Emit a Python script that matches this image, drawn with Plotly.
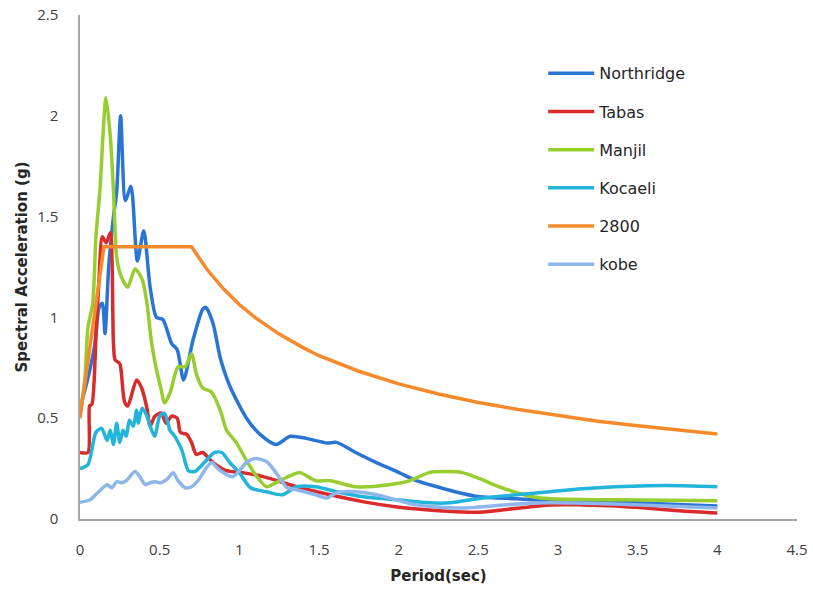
import plotly.graph_objects as go

# ---- data ----
northridge_t = [0, 0.05, 0.09, 0.12, 0.14, 0.157, 0.18, 0.21, 0.23, 0.255, 0.285, 0.32, 0.36, 0.40, 0.44, 0.48,
                0.52, 0.575, 0.61, 0.65, 0.71, 0.77, 0.79, 0.835, 0.88, 0.94, 1.045, 1.13, 1.23, 1.32, 1.42,
                1.55, 1.61, 1.73, 1.86, 1.99, 2.11, 2.24, 2.36, 2.51, 2.74, 2.95, 3.2, 3.5, 3.75, 4.0]
northridge_sa = [0.55, 0.7, 0.85, 1.05, 1.07, 0.92, 1.25, 1.5, 1.62, 2.0, 1.58, 1.65, 1.28, 1.43, 1.15, 1.0,
                 0.99, 0.87, 0.84, 0.69, 0.89, 1.04, 1.05, 0.97, 0.80, 0.66, 0.50, 0.42, 0.37, 0.41, 0.40,
                 0.377, 0.38, 0.33, 0.28, 0.235, 0.19, 0.16, 0.134, 0.11, 0.10, 0.09, 0.085, 0.08, 0.072, 0.065]

tabas_t = [0, 0.05, 0.06, 0.075, 0.1, 0.12, 0.14, 0.165, 0.19, 0.21, 0.22, 0.25, 0.26, 0.28, 0.30, 0.355, 0.387,
           0.42, 0.44, 0.47, 0.51, 0.54, 0.575, 0.61, 0.63, 0.67, 0.70, 0.73, 0.77, 0.835, 0.92, 1.02, 1.15,
           1.36, 1.57, 1.78, 1.99, 2.19, 2.4, 2.53, 2.74, 2.95, 3.15, 3.36, 3.57, 3.78, 4.0]
tabas_sa = [0.33, 0.33, 0.56, 0.57, 0.9, 1.2, 1.40, 1.37, 1.42, 0.87, 0.79, 0.77, 0.72, 0.58, 0.56, 0.69, 0.65,
            0.55, 0.46, 0.51, 0.525, 0.475, 0.51, 0.50, 0.43, 0.42, 0.38, 0.32, 0.33, 0.28, 0.24, 0.23, 0.21,
            0.16, 0.12, 0.085, 0.06, 0.045, 0.035, 0.035, 0.053, 0.07, 0.07, 0.065, 0.053, 0.04, 0.03]

manjil_t = [0, 0.03, 0.05, 0.08, 0.1, 0.125, 0.163, 0.19, 0.21, 0.23, 0.26, 0.30, 0.345, 0.39, 0.42, 0.45, 0.48,
            0.51, 0.53, 0.565, 0.615, 0.66, 0.70, 0.73, 0.77, 0.825, 0.88, 0.92, 0.98, 1.045, 1.11, 1.17,
            1.23, 1.32, 1.38, 1.48, 1.57, 1.73, 1.94, 2.07, 2.19, 2.3, 2.4, 2.51, 2.63, 2.84, 2.95, 3.36, 4.0]
manjil_sa = [0.52, 0.69, 0.95, 1.07, 1.4, 1.63, 2.09, 1.9, 1.63, 1.30, 1.20, 1.15, 1.24, 1.19, 1.07, 0.87, 0.74,
             0.64, 0.575, 0.625, 0.755, 0.755, 0.82, 0.72, 0.65, 0.63, 0.54, 0.44, 0.38, 0.29, 0.21, 0.16,
             0.18, 0.215, 0.23, 0.19, 0.19, 0.16, 0.17, 0.19, 0.23, 0.235, 0.23, 0.20, 0.16, 0.11, 0.10, 0.095, 0.09]

kocaeli_t = [0, 0.05, 0.10, 0.135, 0.17, 0.19, 0.21, 0.23, 0.25, 0.27, 0.29, 0.31, 0.335, 0.355, 0.365, 0.39,
             0.42, 0.45, 0.47, 0.50, 0.53, 0.565, 0.595, 0.64, 0.68, 0.72, 0.78, 0.845, 0.89, 0.94, 1.0, 1.07,
             1.17, 1.27, 1.36, 1.48, 1.61, 1.78, 1.99, 2.19, 2.32, 2.53, 2.74, 2.95, 3.15, 3.36, 3.57, 3.78, 4.0]
kocaeli_sa = [0.25, 0.27, 0.43, 0.45, 0.39, 0.44, 0.37, 0.475, 0.38, 0.44, 0.41, 0.49, 0.46, 0.54, 0.475, 0.55,
              0.51, 0.44, 0.41, 0.51, 0.525, 0.44, 0.41, 0.34, 0.24, 0.235, 0.28, 0.33, 0.33, 0.28, 0.23, 0.155,
              0.135, 0.12, 0.16, 0.16, 0.135, 0.11, 0.095, 0.08, 0.08, 0.104, 0.12, 0.135, 0.15, 0.16, 0.165, 0.165, 0.16]

code2800_t = [0, 0.15, 0.7, 0.75, 0.8, 0.9, 1.0, 1.1, 1.25, 1.4, 1.5, 1.75, 2.0, 2.25, 2.5, 2.75, 3.0, 3.25,
              3.5, 3.75, 4.0]
code2800_sa = [0.5, 1.35, 1.35, 1.29, 1.235, 1.142, 1.064, 0.999, 0.917, 0.85, 0.81, 0.733, 0.67, 0.62, 0.578,
               0.543, 0.512, 0.485, 0.462, 0.441, 0.422]

kobe_t = [0, 0.06, 0.11, 0.17, 0.20, 0.23, 0.26, 0.29, 0.345, 0.375, 0.41, 0.44, 0.47, 0.51, 0.55, 0.585, 0.615,
          0.66, 0.70, 0.74, 0.79, 0.825, 0.865, 0.90, 0.96, 1.045, 1.10, 1.17, 1.23, 1.30, 1.36, 1.48, 1.55,
          1.61, 1.73, 1.86, 1.99, 2.11, 2.24, 2.4, 2.74, 2.95, 3.36, 4.0]
kobe_sa = [0.083, 0.094, 0.13, 0.17, 0.155, 0.185, 0.18, 0.19, 0.235, 0.21, 0.17, 0.18, 0.185, 0.18, 0.20, 0.23,
           0.19, 0.155, 0.16, 0.19, 0.25, 0.28, 0.25, 0.23, 0.21, 0.28, 0.30, 0.285, 0.23, 0.155, 0.145, 0.12,
           0.104, 0.13, 0.135, 0.12, 0.094, 0.07, 0.06, 0.055, 0.074, 0.08, 0.074, 0.055]

x_ticks = [0, 0.5, 1, 1.5, 2, 2.5, 3, 3.5, 4, 4.5]
y_ticks = [0, 0.5, 1, 1.5, 2, 2.5]

series = [
    ("Northridge", northridge_t, northridge_sa, "#2A74D3", "spline"),
    ("Tabas", tabas_t, tabas_sa, "#D92B2B", "spline"),
    ("Manjil", manjil_t, manjil_sa, "#97CD2E", "spline"),
    ("Kocaeli", kocaeli_t, kocaeli_sa, "#22B4DA", "spline"),
    ("2800", code2800_t, code2800_sa, "#F68A2A", "linear"),
    ("kobe", kobe_t, kobe_sa, "#8DB6EA", "spline"),
]

FONT = "'Open Sans', 'Liberation Sans', sans-serif"
WIDE = "'DejaVu Sans', 'Open Sans', sans-serif"

fig = go.Figure()
for i, (name, t, sa, color, shape) in enumerate(series):
    line = dict(color=color, width=3.5, shape=shape)
    if shape == "spline":
        line["smoothing"] = 0.7
    fig.add_trace(go.Scatter(x=t, y=sa, mode="lines", name=name, line=line,
                             legendgroup=f"g{i}"))

fig.update_layout(
    width=813, height=592,
    margin=dict(l=80, r=15.5, t=15, b=73, autoexpand=False),
    paper_bgcolor="white", plot_bgcolor="white",
    font=dict(family=FONT, size=15, color="#404040"),
    legend=dict(x=0.646, y=0.918, xanchor="left", yanchor="top",
                font=dict(family=WIDE, size=16, color="#262626"),
                tracegroupgap=14.4, itemwidth=46, bgcolor="rgba(0,0,0,0)"),
    showlegend=True,
)
fig.update_xaxes(range=[0, 4.5], tickvals=x_ticks, ticktext=[f"{v:g}" for v in x_ticks],
                 showgrid=False, zeroline=False, showline=True, linecolor="#A6A6A6", linewidth=1.5,
                 ticks="", ticklabelstandoff=16, automargin=False, ticklabeloverflow="allow",
                 title=dict(text="<b>Period(sec)</b>", font=dict(family=WIDE, size=15, color="#262626"),
                            standoff=13))
fig.update_yaxes(range=[0, 2.5], tickvals=y_ticks, ticktext=[f"{v:g}" for v in y_ticks],
                 showgrid=False, zeroline=False, showline=True, linecolor="#A6A6A6", linewidth=1.5,
                 ticks="", ticklabelstandoff=17, automargin=False, ticklabeloverflow="allow",
                 title=dict(text="<b>Spectral Acceleration (g)</b>", font=dict(family=WIDE, size=15, color="#262626"),
                            standoff=6))

# remove the browser's default 8px page margin so the figure fills the window exactly
fig.write_html("out.html", config={"displayModeBar": False},
               post_script="document.body.style.margin='0';document.body.style.overflow='hidden';")
